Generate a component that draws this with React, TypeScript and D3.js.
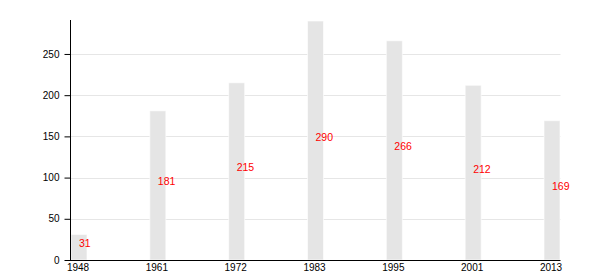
import React, { useEffect, useRef } from "react";
import * as d3 from "d3";

const years = ["1948", "1961", "1972", "1983", "1995", "2001", "2013"];
const population = [31, 181, 215, 290, 266, 212, 169];
const yTicks = [0, 50, 100, 150, 200, 250];

export default function App() {
  const ref = useRef<SVGSVGElement>(null);
  useEffect(() => {
    const svg = d3.select(ref.current);
    svg.selectAll("*").remove();
    const left = 70.5, right = 560.5, top = 20, bottom = 260;
    const barW = 16;
    const x = d3.scalePoint<string>().domain(years).range([left + 8.5, right - 8.5]);
    const y = d3.scaleLinear().domain([0, 290]).range([bottom, 21]);
    const font = "Liberation Sans, Arial, sans-serif";

    // grid
    svg.append("g").selectAll("line").data(yTicks.filter((t) => t > 0)).join("line")
      .attr("x1", left).attr("x2", right)
      .attr("y1", (d) => Math.round(y(d)) + 0.5).attr("y2", (d) => Math.round(y(d)) + 0.5)
      .attr("stroke", "#e6e6e6").attr("stroke-width", 1);

    // bars
    svg.append("g").selectAll("rect").data(population).join("rect")
      .attr("x", (_, i) => x(years[i])! - barW / 2)
      .attr("width", barW)
      .attr("y", (d) => y(d))
      .attr("height", (d) => bottom - y(d))
      .attr("fill", "#e5e5e5")
      .attr("stroke", "#fff").attr("stroke-width", 1).attr("stroke-opacity", 0.6);

    // value labels
    svg.append("g").selectAll("text").data(population).join("text")
      .attr("x", (_, i) => x(years[i])!)
      .attr("y", (d) => (y(d) + bottom) / 2)
      .attr("fill", "#ff0000")
      .attr("font-family", font).attr("font-size", 10.5)
      .text((d) => d);

    // y axis
    const ya = svg.append("g").attr("transform", `translate(${left},0)`)
      .call(d3.axisLeft(y).tickValues(yTicks).tickSize(6).tickPadding(5).tickSizeOuter(0));
    ya.select(".domain").attr("stroke", "#000").attr("d", `M0.5,${top}V${bottom}`).attr("transform", "translate(-0.5,0)");
    ya.selectAll("text").attr("font-family", font).attr("font-size", 10).attr("fill", "#000");
    ya.selectAll("line").attr("stroke", "#000");

    // x axis
    const xa = svg.append("g").attr("transform", `translate(0,${bottom})`)
      .call(d3.axisBottom(x).tickSize(0).tickPadding(4).tickSizeOuter(0));
    xa.select(".domain").attr("stroke", "#000").attr("d", `M${left - 0.5},0.5H${right}`);
    xa.selectAll("text").attr("font-family", font).attr("font-size", 10).attr("fill", "#000")
      .attr("dx", -1.5);
  }, []);
  return (
    <svg ref={ref} width={600} height={280}
      style={{ position: "absolute", left: 0, top: 0, background: "#fff" }} />
  );
}
